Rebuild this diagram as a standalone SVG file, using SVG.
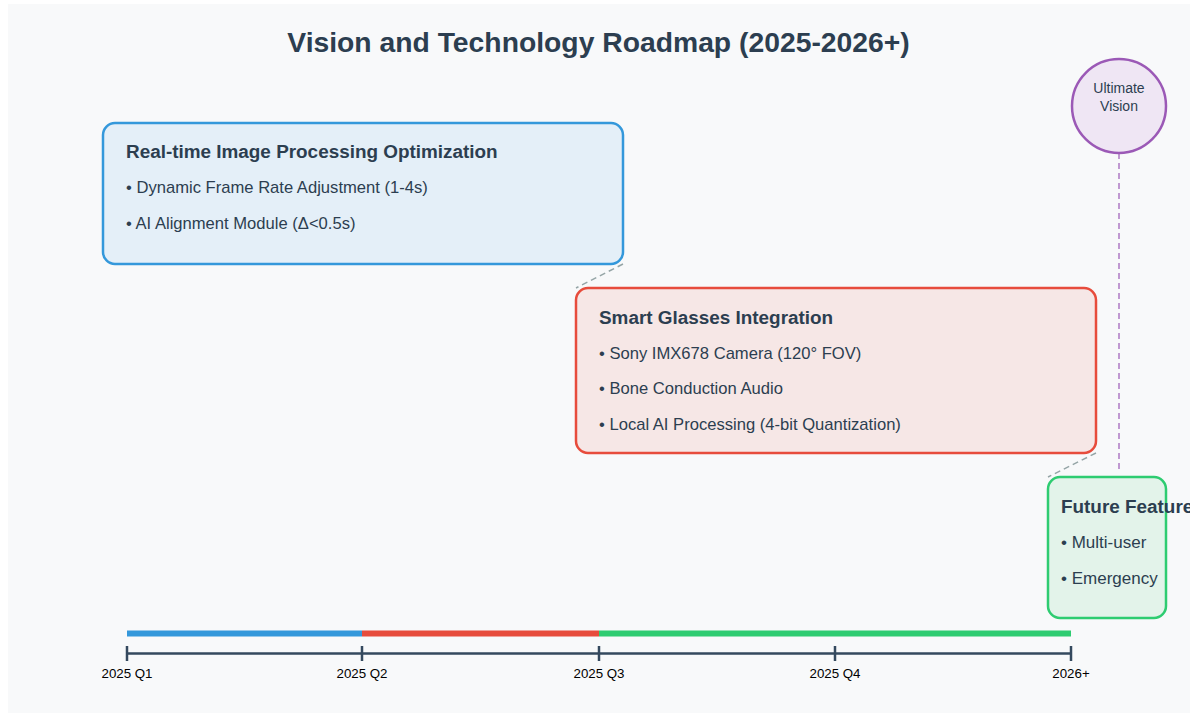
<svg xmlns="http://www.w3.org/2000/svg" width="1197" height="723" viewBox="0 0 1197 723">
<style>
.t{font-family:"Liberation Sans",Arial,sans-serif;fill:#2c3e50}
.h{font-size:18.9px;font-weight:bold}
.b{font-size:16.6px}
.ax{font-family:"Liberation Sans",Arial,sans-serif;font-size:13.3px;fill:#000;text-anchor:middle}
.dash{stroke:#95a5a6;stroke-width:1.5;stroke-dasharray:6,4;fill:none}
</style>
<defs>
<clipPath id="clip"><rect x="8" y="4" width="1182" height="709"/></clipPath>
</defs>
<rect x="0" y="0" width="1197" height="723" fill="#ffffff"/>
<rect x="8" y="4" width="1182" height="709" fill="#f8f9fa"/>
<text class="t" x="598.5" y="52" font-size="28.3" font-weight="bold" text-anchor="middle">Vision and Technology Roadmap (2025-2026+)</text>
<g id="connectors">
<line class="dash" x1="623" y1="264" x2="576" y2="288"/>
<line class="dash" x1="1096" y1="453" x2="1048" y2="477"/>
<line x1="1119" y1="153" x2="1119" y2="473" stroke="#9b59b6" stroke-opacity="0.6" stroke-width="2" stroke-dasharray="6,4"/>
</g>
<g id="node-realtime">
<rect x="103" y="123" width="520" height="141" rx="12" fill="#e4eff8" stroke="#3498db" stroke-width="2.5"/>
<text class="t h" x="126" y="158">Real-time Image Processing Optimization</text>
<text class="t b" x="126" y="193">• Dynamic Frame Rate Adjustment (1-4s)</text>
<text class="t b" x="126" y="229">• AI Alignment Module (Δ&lt;0.5s)</text>
</g>
<g id="node-glasses">
<rect x="576" y="288" width="520" height="165" rx="12" fill="#f6e7e6" stroke="#e74c3c" stroke-width="2.5"/>
<text class="t h" x="599" y="324">Smart Glasses Integration</text>
<text class="t b" x="599" y="359">• Sony IMX678 Camera (120° FOV)</text>
<text class="t b" x="599" y="394">• Bone Conduction Audio</text>
<text class="t b" x="599" y="430">• Local AI Processing (4-bit Quantization)</text>
</g>
<g id="node-future" clip-path="url(#clip)">
<rect x="1048" y="477" width="118" height="141" rx="12" fill="#e3f3ea" stroke="#2ecc71" stroke-width="2.5"/>
<text class="t h" x="1061" y="513">Future Features</text>
<text class="t" x="1061" y="548" font-size="17">• Multi-user</text>
<text class="t" x="1061" y="584" font-size="17">• Emergency</text>
</g>
<g id="node-vision">
<circle cx="1119" cy="106" r="47" fill="#efe6f4" stroke="#9b59b6" stroke-width="2.5"/>
<text class="t" x="1119" y="93" font-size="14" text-anchor="middle">Ultimate</text>
<text class="t" x="1119" y="111" font-size="14" text-anchor="middle">Vision</text>
</g>
<g id="timeline">
<rect x="127" y="630.5" width="235" height="6" fill="#3498db"/>
<rect x="362" y="630.5" width="237" height="6" fill="#e74c3c"/>
<rect x="599" y="630.5" width="472" height="6" fill="#2ecc71"/>
<line x1="127" y1="653.5" x2="1071" y2="653.5" stroke="#34495e" stroke-width="2.5"/>
<g stroke="#34495e" stroke-width="2.5">
<line x1="127" y1="646" x2="127" y2="661"/>
<line x1="362" y1="646" x2="362" y2="661"/>
<line x1="599" y1="646" x2="599" y2="661"/>
<line x1="835" y1="646" x2="835" y2="661"/>
<line x1="1071" y1="646" x2="1071" y2="661"/>
</g>
<text class="ax" x="127" y="678">2025 Q1</text>
<text class="ax" x="362" y="678">2025 Q2</text>
<text class="ax" x="599" y="678">2025 Q3</text>
<text class="ax" x="835" y="678">2025 Q4</text>
<text class="ax" x="1071" y="678">2026+</text>
</g>
</svg>
